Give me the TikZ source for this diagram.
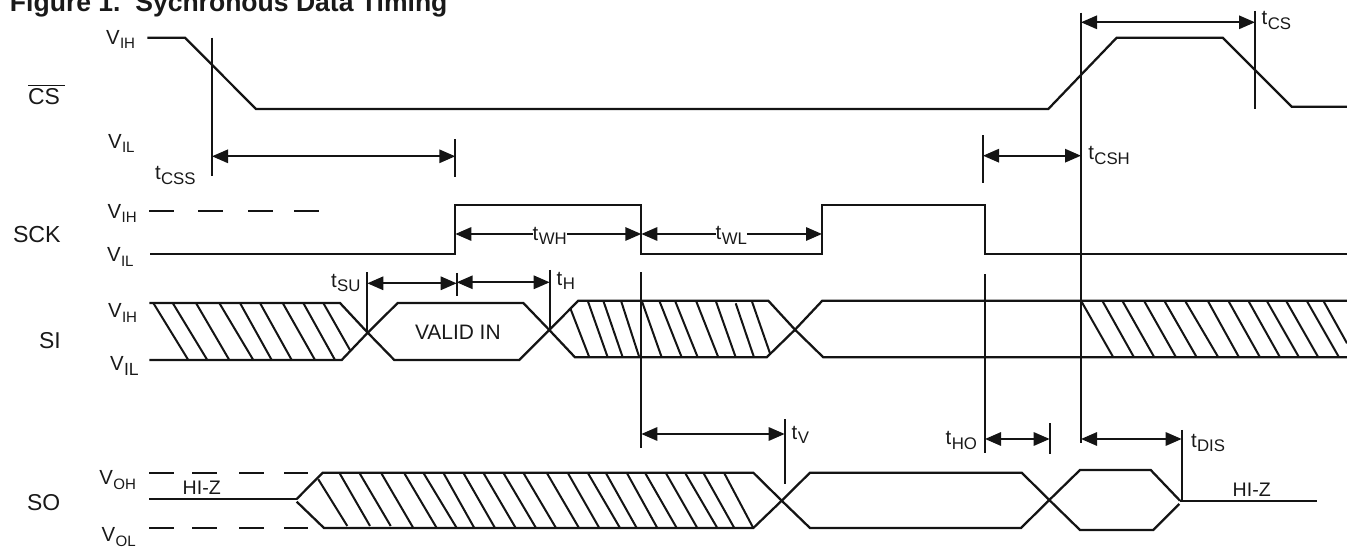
\documentclass[tikz,border=0pt]{standalone}
\usepackage{fontspec}
\setmainfont{Liberation Sans}
\usetikzlibrary{arrows.meta}
% 1 px of the reference = 0.75pt
\newcommand{\fs}[1]{\fontsize{#1}{#1}\selectfont}
% main letter + lowered subscript: {main size pt}{letter}{sub size pt}{drop pt}{subscript}
\newcommand{\subl}[5]{{\fs{#1}#2}\kern0.3pt\raisebox{-#4pt}{\fs{#3}#5}}
\newcommand{\vl}[1]{\subl{15.3}{V}{11.3}{3.5}{#1}}
\newcommand{\tl}[1]{\subl{15.3}{t}{12.6}{3.2}{#1}}
\tikzset{
  sig/.style={line width=1.7pt,line join=miter,black!92},
  hatchln/.style={line width=1.5pt,black!92},
  thin sig/.style={line width=1.4pt,black!92},
  dim/.style={line width=1.5pt,black!92,{Triangle[length=12pt,width=10pt]}-{Triangle[length=12pt,width=10pt]}},
  halfdim/.style={line width=1.5pt,black!92,{Triangle[length=12pt,width=10pt]}-},
  halfdimr/.style={line width=1.5pt,black!92,-{Triangle[length=12pt,width=10pt]}},
  tick/.style={line width=1.6pt,black!92},
  lab/.style={anchor=base west,inner sep=0pt,outer sep=0pt,text=black!90}
}
\begin{document}
\begin{tikzpicture}[x=0.75pt,y=-0.75pt]
\useasboundingbox (0,0) rectangle (1347,548);
\clip (0,0) rectangle (1347,548);

% title
\node[lab] (title) at (10,12) {\fs{19.9}\bfseries Figure 1.\ \ Sychronous Data Timing};

% signal names
\node[lab] (nCS) at (28,104.3) {\fs{17.2}CS};
\draw[line width=1.2pt,black!92] (28,85.7) -- (65,85.7);
\node[lab] (nSCK) at (13,243) {\fs{17.4}SCK};
\node[lab] (nSI) at (39,349) {\fs{17.2}SI};
\node[lab] (nSO) at (27,511) {\fs{17.2}SO};

% levels
\node[lab] (v1) at (106,44.3) {\vl{IH}};
\node[lab] (v2) at (108,148.3) {\vl{IL}};
\node[lab] (v3) at (107.7,218.3) {\vl{IH}};
\node[lab] (v4) at (107,261.7) {\vl{IL}};
\node[lab] (v5) at (108,317.7) {\vl{IH}};
\node[lab] (v6) at (110,371) {\subl{15.3}{V}{13.2}{3.7}{IL}};
\node[lab] (v7) at (99.3,485) {\vl{OH}};
\node[lab] (v8) at (101.7,542) {\vl{OL}};

% CS waveform
\draw[sig] (147.3,37.7) -- (185,37.7) -- (256,109) -- (1048.3,109) -- (1116.7,37.7) -- (1222.7,37.7) -- (1291.7,106.7) -- (1347,106.7);

% SCK waveform
\draw[sig] (149,211) -- (174,211) (198.3,211) -- (222.7,211) (248.3,211) -- (272.7,211) (294.3,211) -- (319,211);
\draw[sig] (150,253.7) -- (455.3,253.7) -- (455.3,205) -- (641.3,205) -- (641.3,253.7) -- (822,253.7) -- (822,205) -- (985,205) -- (985,253.7) -- (1347,253.7);

% SI waveform
\draw[sig] (149.3,303) -- (340,303) -- (367.7,332.7) -- (394.3,360) -- (519.3,360) -- (549.3,330) -- (578.3,300.7) -- (768.3,300.7) -- (795,329.7) -- (823.3,357.3) -- (1347,357.3);
\draw[sig] (149.3,360) -- (341.7,360) -- (367.7,332.7) -- (397.7,303) -- (523.3,303) -- (549.3,330) -- (575,357.3) -- (766.7,357.3) -- (795,329.7) -- (822.3,300.7) -- (1347,300.7);
\foreach \xa/\xb in {153.3/188.3,172.7/207.3,196/229.3,219.3/253.3,240/271.7,260/291.7,282.7/315,303.3/335}
  \draw[hatchln] (\xa,303) -- (\xb,360);
\draw[hatchln] (323.3,303) -- (350,350);
\node[lab] (valid) at (415,340) {\fs{15.7}VALID IN};
\draw[hatchln] (570.7,309.3) -- (589.3,357.3);
\foreach \xa/\xb in {587.7/607.7,603.3/622.7,621/639.3,641.7/661.7,659.3/681.7,675/697.7,696/718.3,715.7/735.7}
  \draw[hatchln] (\xa,300.7) -- (\xb,357.3);
\draw[hatchln] (735.7,303.3) -- (754,357.3);
\draw[hatchln] (751.7,300.7) -- (770,353.3);
\foreach \xa/\xb in {1081/1113.3,1102.3/1134,1122.3/1154.3,1144/1176,1164.3/1196.7,1185/1218.3,1207.7/1239,1228.3/1260,1248.3/1280,1266.7/1299,1286/1318.3,1306.7/1339}
  \draw[hatchln] (\xa,300.7) -- (\xb,357.3);
\draw[hatchln] (1323.3,300.7) -- (1347,343.3);

% SO waveform
\foreach \yy in {472.7,528}
  \draw[sig] (149.3,\yy) -- (174,\yy) (192,\yy) -- (216.7,\yy) (239.3,\yy) -- (264,\yy) (284,\yy) -- (308.3,\yy);
\draw[thin sig] (149.3,499) -- (296.7,499);
\draw[sig] (296.7,499) -- (322.7,472.7) -- (753.3,472.7) -- (781.7,500.7) -- (810,528) -- (1021,528) -- (1049.3,500) -- (1080,470) -- (1150.7,470) -- (1180,500.7);
\draw[sig] (296.7,501.7) -- (324,528) -- (753.3,528) -- (781.7,500.7) -- (810,472.7) -- (1021.7,472.7) -- (1049.3,500) -- (1080,530) -- (1153.3,530) -- (1179.3,504);
\draw[thin sig] (1180,501.3) -- (1316.7,501.3);
\draw[hatchln] (318.3,479.3) -- (347.3,526);
\draw[hatchln] (339.3,472.7) -- (370,526);
\draw[hatchln] (359.3,472.7) -- (390.7,526);
\foreach \xa/\xb in {381/413.3,404/436.7,423.3/456.7,443.3/474.3,463.3/495,483.3/515.7,503.3/536,523.3/556,546.7/579,567.7/599.3,587.7/620,605.7/636.7,626.7/657.3,645/676.7,665.7/697.3,685/717.3,703.3/734.3,724/753.3}
  \draw[hatchln] (\xa,472.7) -- (\xb,528);
\node[lab] (hiz1) at (182.7,495) {\fs{14.7}HI-Z};
\node[lab] (hiz2) at (1232.7,496.7) {\fs{14.7}HI-Z};

% vertical reference lines
\draw[tick] (211.7,37.7) -- (211.7,176);
\draw[tick] (455.3,139.3) -- (455.3,176.7);
\draw[tick] (982.7,135.3) -- (982.7,182.7);
\draw[tick] (1081,12.7) -- (1081,443.3);
\draw[tick] (1255,11) -- (1255,109);
\draw[tick] (367.3,272.3) -- (367.3,332.7);
\draw[tick] (456.7,273) -- (456.7,296);
\draw[tick] (549.7,270) -- (549.7,330);
\draw[tick] (641.3,272.3) -- (641.3,448);
\draw[tick] (985,274.3) -- (985,452.7);
\draw[tick] (784.7,419.3) -- (784.7,484);
\draw[tick] (1049.7,423.3) -- (1049.7,454.3);
\draw[tick] (1181.7,430) -- (1181.7,501);

% dimension end points
\coordinate (cssL) at (212,156.3);   \coordinate (cssR) at (455.3,156.3);
\coordinate (cshL) at (983,155.7);   \coordinate (cshR) at (1081,155.7);
\coordinate (csL)  at (1081,22.3);   \coordinate (csR)  at (1255,22.3);
\coordinate (suL)  at (367.3,283.3); \coordinate (suR)  at (456.7,283.3);
\coordinate (hL)   at (456.7,282.3); \coordinate (hR)   at (549.7,282.3);
\coordinate (wh1)  at (455.3,234);   \coordinate (wh2)  at (641.3,234);
\coordinate (wl1)  at (641.3,234);   \coordinate (wl2)  at (822,234);
\coordinate (vL)   at (641.3,434);   \coordinate (vR)   at (784.7,434);
\coordinate (hoL)  at (985,439);     \coordinate (hoR)  at (1049.7,439);
\coordinate (disL) at (1081,439);    \coordinate (disR) at (1181.7,439);

\draw[dim] (cssL) -- (cssR);
\draw[dim] (cshL) -- (cshR);
\draw[dim] (csL) -- (csR);
\draw[dim] (suL) -- (suR);
\draw[dim] (hL) -- (hR);
\draw[dim] (vL) -- (vR);
\draw[dim] (hoL) -- (hoR);
\draw[dim] (disL) -- (disR);

% timing labels
\node[lab] (tcss) at (155,180) {\tl{CSS}};
\node[lab] (tcs) at (1261.7,25) {\tl{CS}};
\node[lab] (tcsh) at (1088.3,160) {\tl{CSH}};
\node[lab] (tsu) at (331,287.7) {\tl{SU}};
\node[lab] (th) at (556.7,285.7) {\tl{H}};
\node[lab] (twh) at (532.7,240.7) {\tl{WH}};
\node[lab] (twl) at (715.7,240) {\tl{WL}};
\node[lab] (tv) at (791.7,439.3) {\tl{V}};
\node[lab] (tho) at (945.7,445) {\tl{HO}};
\node[lab] (tdis) at (1191,447.7) {\tl{DIS}};

\draw[halfdim] (wh1) -- (wh1 -| twh.west);
\draw[halfdimr] (wh2 -| twh.east) -- (wh2);
\draw[halfdim] (wl1) -- (wl1 -| twl.west);
\draw[halfdimr] (wl2 -| twl.east) -- (wl2);
\end{tikzpicture}
\end{document}
